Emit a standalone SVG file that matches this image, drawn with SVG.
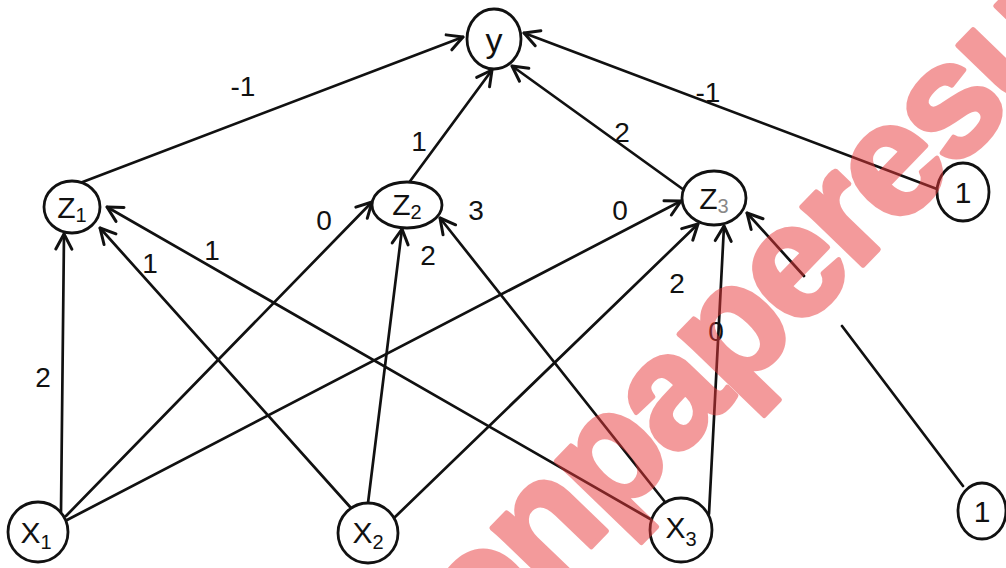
<svg xmlns="http://www.w3.org/2000/svg" width="1006" height="568" viewBox="0 0 1006 568">
<defs>
<style>
.node ellipse{fill:#fff;stroke:#111;stroke-width:2.8}
.lbl{font-family:"Liberation Sans",Arial,sans-serif;font-size:30px;fill:#111;text-anchor:middle}
.sub{font-size:20px}
.w{font-family:"Liberation Sans",Arial,sans-serif;font-size:28px;fill:#111;text-anchor:middle}
.edge{stroke:#111;stroke-width:2.7;fill:none;stroke-linecap:round;marker-end:url(#arr)}
.wm{font-family:"Liberation Sans",Arial,sans-serif;font-weight:bold;font-size:160px;letter-spacing:-5px;fill:#e8383a;stroke:#e8383a;stroke-width:5;stroke-linejoin:round}
</style>
<marker id="arr" markerUnits="userSpaceOnUse" viewBox="-17 -11 19 22" markerWidth="19" markerHeight="22" refX="0" refY="0" orient="auto">
<path d="M-15,-8 L0,0 L-15,8" fill="none" stroke="#111" stroke-width="3" stroke-linecap="round" stroke-linejoin="round"/>
</marker>
</defs>
<g id="connectors">
<path class="edge" d="M80,183 L463,37"/>
<path class="edge" d="M408,184 L492,70"/>
<path class="edge" d="M684,190 L512,66"/>
<path class="edge" d="M937,189 L524,33"/>
<path class="edge" d="M61,512 L64,234"/>
<path class="edge" d="M66,516 L372,202"/>
<path class="edge" d="M67,520 L681,201"/>
<path class="edge" d="M351,508 L100,228"/>
<path class="edge" d="M368,503 L402,229"/>
<path class="edge" d="M394,518 L698,224"/>
<path class="edge" d="M652,520 L107,207"/>
<path class="edge" d="M665,502 L440,218"/>
<path class="edge" d="M709,514 L724,226"/>
<path class="edge" d="M963,486 L842,326 M804,276 L747,213"/>
</g>
<g id="y" class="node"><ellipse cx="494" cy="39" rx="27" ry="30"/><text class="lbl" x="494" y="52" style="font-size:34px">y</text></g>
<g id="z1" class="node"><ellipse cx="72" cy="207" rx="28" ry="26"/><text class="lbl" x="72" y="218">Z<tspan class="sub" dy="4">1</tspan></text></g>
<g id="z2" class="node"><ellipse cx="407" cy="205" rx="35" ry="23"/><text class="lbl" x="407" y="215">Z<tspan class="sub" dy="4">2</tspan></text></g>
<g id="z3" class="node"><ellipse cx="714" cy="198" rx="32" ry="27"/><text class="lbl" x="714" y="209">Z<tspan class="sub" dy="4" fill="#888">3</tspan></text></g>
<g id="b1" class="node"><ellipse cx="963" cy="192" rx="26" ry="29"/><text class="lbl" x="963" y="203">1</text></g>
<g id="x1" class="node"><ellipse cx="38" cy="532" rx="30" ry="30"/><text class="lbl" x="36" y="543">X<tspan class="sub" dy="6">1</tspan></text></g>
<g id="x2" class="node"><ellipse cx="368" cy="533" rx="30" ry="30"/><text class="lbl" x="368" y="543">X<tspan class="sub" dy="6">2</tspan></text></g>
<g id="x3" class="node"><ellipse cx="681" cy="530" rx="31" ry="32"/><text class="lbl" x="681" y="538">X<tspan class="sub" dy="8">3</tspan></text></g>
<g id="b2" class="node"><ellipse cx="982" cy="511" rx="24" ry="28"/><text class="lbl" x="982" y="522">1</text></g>
<g id="weights">
<text class="w" x="243" y="96">-1</text>
<text class="w" x="419" y="151">1</text>
<text class="w" x="622" y="142">2</text>
<text class="w" x="708" y="102">-1</text>
<text class="w" x="43" y="387">2</text>
<text class="w" x="324" y="230">0</text>
<text class="w" x="476" y="220">3</text>
<text class="w" x="428" y="265">2</text>
<text class="w" x="620" y="220">0</text>
<text class="w" x="677" y="293">2</text>
<text class="w" x="150" y="273">1</text>
<text class="w" x="212" y="260">1</text>
<text class="w" x="716" y="341">0</text>
</g>
<g id="watermark" opacity="0.5"><text class="wm" transform="translate(481,661) rotate(-46)">onpaperesu</text></g>
</svg>
